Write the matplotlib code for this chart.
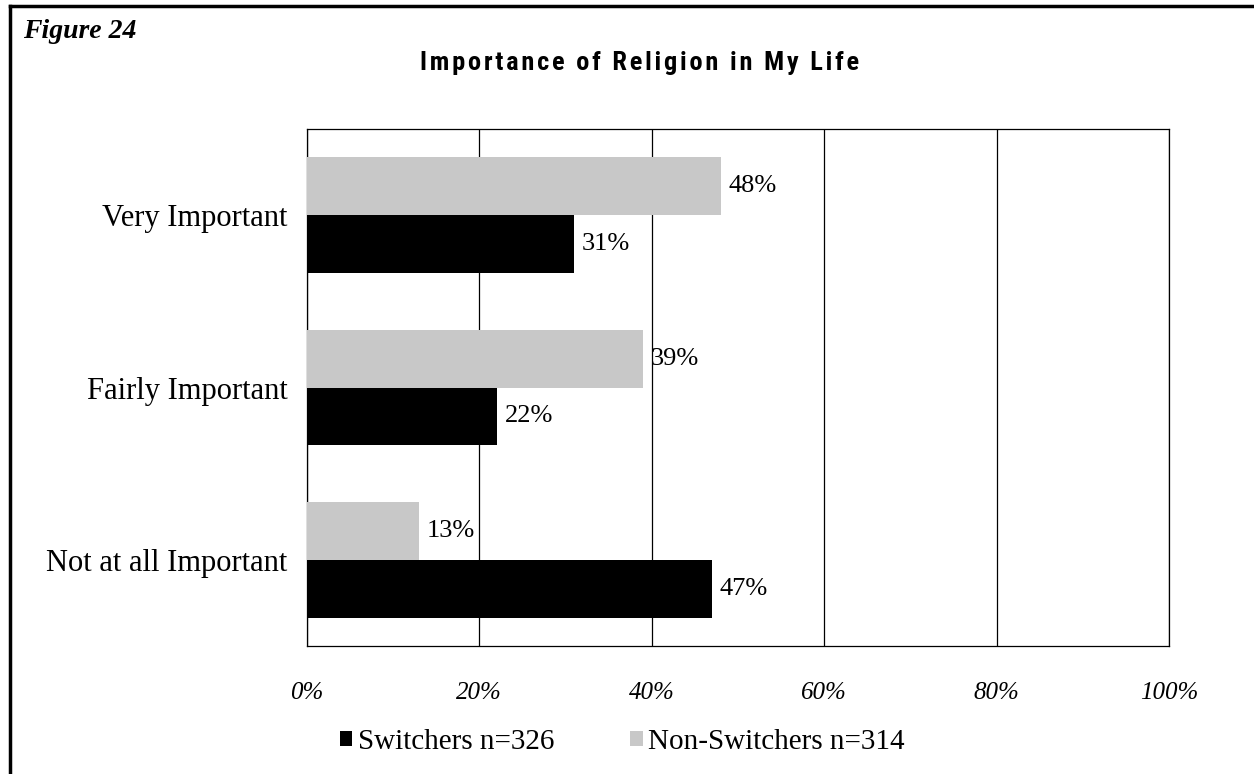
import matplotlib
matplotlib.use("Agg")
import matplotlib.pyplot as plt
from matplotlib.patches import Patch
from matplotlib.lines import Line2D
from matplotlib import font_manager

categories = ["Very Important", "Fairly Important", "Not at all Important"]
switchers = [31, 22, 47]
non_switchers = [48, 39, 13]
series_names = ["Switchers n=326", "Non-Switchers n=314"]
xticks = [0, 20, 40, 60, 80, 100]

W, H = 1254, 774
fig = plt.figure(figsize=(W / 100, H / 100), dpi=100)
serif = "Liberation Serif"

ax = fig.add_axes([307 / W, (H - 646) / H, 862 / W, 517 / H])

bar_h = 0.336
ypos = list(range(len(categories)))
gray = "#c8c8c8"
ax.barh([y - bar_h / 2 for y in ypos], non_switchers, height=bar_h,
        color=gray, zorder=3)
ax.barh([y + bar_h / 2 for y in ypos], switchers, height=bar_h,
        color="black", zorder=3)

for y, v in zip(ypos, non_switchers):
    ax.text(v + 0.9, y - bar_h / 2, f"{v}%", va="center", ha="left",
            fontsize=19, family=serif, zorder=4)
for y, v in zip(ypos, switchers):
    ax.text(v + 0.9, y + bar_h / 2, f"{v}%", va="center", ha="left",
            fontsize=19, family=serif, zorder=4)

ax.set_xlim(0, 100)
ax.set_ylim(len(categories) - 0.5, -0.5)
ax.set_xticks(xticks)
ax.set_xticklabels([f"{t}%" for t in xticks], fontsize=18, family=serif,
                   style="italic")
ax.set_yticks(ypos)
ax.set_yticklabels(categories, fontsize=22, family=serif)
ax.tick_params(axis="both", length=0)
ax.tick_params(axis="x", pad=26)
ax.tick_params(axis="y", pad=14)
ax.xaxis.grid(True, color="black", linewidth=0.9, zorder=1)
for s in ax.spines.values():
    s.set_linewidth(0.9)
    s.set_color("black")

# legend
handles = [Patch(facecolor="black", edgecolor="none"),
           Patch(facecolor=gray, edgecolor="none")]
fig.legend(handles, series_names, loc="center left",
           bbox_to_anchor=(340 / W, 1 - 742 / H), ncol=2, frameon=False,
           prop={"family": serif, "size": 21}, handlelength=0.42,
           handleheight=0.42, handletextpad=0.2, columnspacing=2.6,
           borderaxespad=0, borderpad=0)

# title in a narrow bold face (if one is installed) with opened-up letter spacing
names = {f.name for f in font_manager.fontManager.ttflist}
title_font, title_size = "DejaVu Sans", 17
for cand, size in [("Roboto Condensed", 19), ("Liberation Sans Narrow", 19),
                   ("Open Sans Condensed", 19)]:
    if cand in names:
        title_font, title_size = cand, size
        break
title = "Importance of Religion in My Life"
spaced = "\u200a".join(title)
fig.text(640 / W, 1 - 63 / H, spaced, ha="center", va="center",
         fontsize=title_size, fontweight="bold", family=title_font)

fig.text(23 / W, 1 - 31 / H, "Figure 24", ha="left", va="center",
         fontsize=20, fontweight="bold", style="italic", family=serif)

# frame along the top and left edges
fig.add_artist(Line2D([10 / W, 10 / W], [0, 1 - 6 / H], transform=fig.transFigure,
                      color="black", linewidth=2.5))
fig.add_artist(Line2D([10 / W, 1], [1 - 6 / H, 1 - 6 / H], transform=fig.transFigure,
                      color="black", linewidth=2.5))

fig.savefig("out.png", dpi=100, facecolor="white")
